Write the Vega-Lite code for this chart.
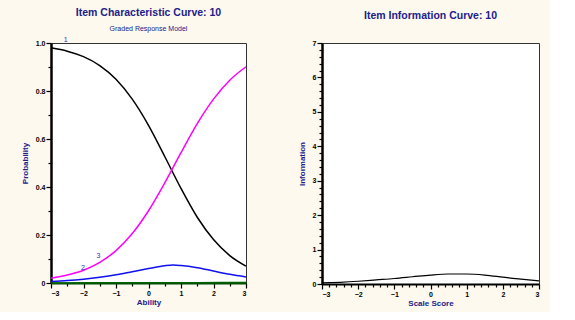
{
  "$schema": "https://vega.github.io/schema/vega-lite/v6.json",
  "background": "#fdf9ee",
  "padding": {"left": 20, "top": 7, "right": 8, "bottom": 4},
  "spacing": 47,
  "config": {
    "font": "Liberation Sans",
    "view": {"fill": "white", "stroke": "#333333", "strokeWidth": 1},
    "title": {"color": "#20208a", "fontSize": 10.5, "fontWeight": "bold", "subtitleColor": "#20208a", "subtitleFontSize": 7, "subtitlePadding": 7, "offset": 4},
    "axis": {"labelFont": "Liberation Sans", "labelFontSize": 7, "labelFontWeight": "bold", "labelColor": "black", "titleColor": "#20208a", "titleFontSize": 8, "titleFontWeight": "bold", "grid": false, "domainColor": "black", "tickColor": "black", "labelOverlap": false, "labelPadding": 1}
  },
  "datasets": {
    "icc": [
      {"theta": -3, "p": 0.980, "cat": "1"}, {"theta": -2.5, "p": 0.966, "cat": "1"}, {"theta": -2, "p": 0.943, "cat": "1"}, {"theta": -1.5, "p": 0.906, "cat": "1"}, {"theta": -1, "p": 0.849, "cat": "1"}, {"theta": -0.5, "p": 0.766, "cat": "1"}, {"theta": 0, "p": 0.657, "cat": "1"}, {"theta": 0.5, "p": 0.527, "cat": "1"}, {"theta": 1, "p": 0.394, "cat": "1"}, {"theta": 1.5, "p": 0.274, "cat": "1"}, {"theta": 2, "p": 0.181, "cat": "1"}, {"theta": 2.5, "p": 0.114, "cat": "1"}, {"theta": 3, "p": 0.070, "cat": "1"},
      {"theta": -3, "p": 0.006, "cat": "2"}, {"theta": -2.5, "p": 0.010, "cat": "2"}, {"theta": -2, "p": 0.016, "cat": "2"}, {"theta": -1.5, "p": 0.024, "cat": "2"}, {"theta": -1, "p": 0.034, "cat": "2"}, {"theta": -0.5, "p": 0.047, "cat": "2"}, {"theta": 0, "p": 0.060, "cat": "2"}, {"theta": 0.5, "p": 0.072, "cat": "2"}, {"theta": 0.75, "p": 0.075, "cat": "2"}, {"theta": 1, "p": 0.073, "cat": "2"}, {"theta": 1.5, "p": 0.064, "cat": "2"}, {"theta": 2, "p": 0.050, "cat": "2"}, {"theta": 2.5, "p": 0.036, "cat": "2"}, {"theta": 3, "p": 0.025, "cat": "2"},
      {"theta": -3, "p": 0.020, "cat": "3"}, {"theta": -2.5, "p": 0.033, "cat": "3"}, {"theta": -2, "p": 0.053, "cat": "3"}, {"theta": -1.5, "p": 0.086, "cat": "3"}, {"theta": -1, "p": 0.135, "cat": "3"}, {"theta": -0.5, "p": 0.206, "cat": "3"}, {"theta": 0, "p": 0.301, "cat": "3"}, {"theta": 0.5, "p": 0.417, "cat": "3"}, {"theta": 1, "p": 0.543, "cat": "3"}, {"theta": 1.5, "p": 0.664, "cat": "3"}, {"theta": 2, "p": 0.766, "cat": "3"}, {"theta": 2.5, "p": 0.845, "cat": "3"}, {"theta": 3, "p": 0.901, "cat": "3"},
      {"theta": -3, "p": 0.0005, "cat": "4"}, {"theta": -1.5, "p": 0.0008, "cat": "4"}, {"theta": 0, "p": 0.001, "cat": "4"}, {"theta": 1.5, "p": 0.0015, "cat": "4"}, {"theta": 3, "p": 0.002, "cat": "4"}
    ],
    "labels": [
      {"theta": -2.55, "p": 1.0, "label": "1"},
      {"theta": -2.02, "p": 0.049, "label": "2"},
      {"theta": -1.54, "p": 0.10, "label": "3"}
    ],
    "iic": [
      {"theta": -3, "info": 0.03}, {"theta": -2.5, "info": 0.05}, {"theta": -2, "info": 0.08}, {"theta": -1.5, "info": 0.12}, {"theta": -1, "info": 0.16}, {"theta": -0.5, "info": 0.21}, {"theta": 0, "info": 0.26}, {"theta": 0.5, "info": 0.29}, {"theta": 1, "info": 0.29}, {"theta": 1.5, "info": 0.26}, {"theta": 2, "info": 0.20}, {"theta": 2.5, "info": 0.14}, {"theta": 3, "info": 0.09}
    ]
  },
  "hconcat": [
    {
      "width": 195,
      "height": 240,
      "title": {"text": "Item Characteristic Curve: 10", "subtitle": "Graded Response Model"},
      "encoding": {
        "x": {"field": "theta", "type": "quantitative", "scale": {"domain": [-3, 3], "nice": false},
          "axis": {"title": "Ability", "values": [-3, -2.5, -2, -1.5, -1, -0.5, 0, 0.5, 1, 1.5, 2, 2.5, 3], "labelOverlap": false,
            "labelExpr": "abs(datum.value - round(datum.value)) < 0.001 ? format(datum.value, 'd') : ''",
            "tickSize": {"condition": {"test": "abs(datum.value - round(datum.value)) < 0.001", "value": 5}, "value": 3},
            "domainWidth": 2, "domainColor": "#004d00", "tickWidth": 1.2, "titlePadding": 2, "titleColor": "#20208a"}},
        "y": {"field": "p", "type": "quantitative", "scale": {"domain": [0, 1], "nice": false},
          "axis": {"title": "Probability", "values": [0, 0.1, 0.2, 0.3, 0.4, 0.5, 0.6, 0.7, 0.8, 0.9, 1.0], "labelOverlap": false,
            "labelExpr": "abs(datum.value * 5 - round(datum.value * 5)) < 0.001 ? (datum.value == 0 ? '0' : format(datum.value, '.1f')) : ''",
            "tickSize": {"condition": {"test": "abs(datum.value * 5 - round(datum.value * 5)) < 0.001", "value": 5}, "value": 3},
            "domainWidth": 2.5, "tickWidth": 1.2, "titlePadding": 6, "titleColor": "#20208a"}}
      },
      "layer": [
        {
          "data": {"name": "icc"},
          "mark": {"type": "line", "interpolate": "monotone", "strokeWidth": 1.5},
          "encoding": {
            "color": {"field": "cat", "type": "nominal", "scale": {"domain": ["1", "2", "3", "4"], "range": ["#000000", "#1010f0", "#ff00ff", "#006000"]}, "legend": null},
            "strokeWidth": {"condition": {"test": "datum.cat == '4'", "value": 2.5}, "value": 1.5}
          }
        },
        {
          "data": {"name": "labels"},
          "mark": {"type": "text", "fontSize": 7, "color": "#3030b0", "dy": -3},
          "encoding": {
            "text": {"field": "label"}
          }
        }
      ]
    },
    {
      "width": 217,
      "height": 241,
      "title": {"text": "Item Information Curve: 10", "subtitle": " "},
      "data": {"name": "iic"},
      "mark": {"type": "line", "interpolate": "monotone", "strokeWidth": 1.2, "color": "black"},
      "encoding": {
        "x": {"field": "theta", "type": "quantitative", "scale": {"domain": [-3, 3], "nice": false},
          "axis": {"title": "Scale Score", "labelOverlap": false, "values": [-3, -2.8, -2.6, -2.4, -2.2, -2, -1.8, -1.6, -1.4, -1.2, -1, -0.8, -0.6, -0.4, -0.2, 0, 0.2, 0.4, 0.6, 0.8, 1, 1.2, 1.4, 1.6, 1.8, 2, 2.2, 2.4, 2.6, 2.8, 3],
            "labelExpr": "abs(datum.value - round(datum.value)) < 0.001 ? format(datum.value, 'd') : ''",
            "tickSize": {"condition": {"test": "abs(datum.value - round(datum.value)) < 0.001", "value": 5}, "value": 3},
            "domainWidth": 2, "tickWidth": 1.2, "titlePadding": 2}},
        "y": {"field": "info", "type": "quantitative", "scale": {"domain": [0, 7], "nice": false},
          "axis": {"title": "Information", "labelOverlap": false, "values": [0, 0.2, 0.4, 0.6, 0.8, 1, 1.2, 1.4, 1.6, 1.8, 2, 2.2, 2.4, 2.6, 2.8, 3, 3.2, 3.4, 3.6, 3.8, 4, 4.2, 4.4, 4.6, 4.8, 5, 5.2, 5.4, 5.6, 5.8, 6, 6.2, 6.4, 6.6, 6.8, 7],
            "labelExpr": "abs(datum.value - round(datum.value)) < 0.001 ? format(datum.value, 'd') : ''",
            "tickSize": {"condition": {"test": "abs(datum.value - round(datum.value)) < 0.001", "value": 5}, "value": 3},
            "domainWidth": 2.5, "tickWidth": 1.2, "titlePadding": 6}}
      }
    }
  ]
}
